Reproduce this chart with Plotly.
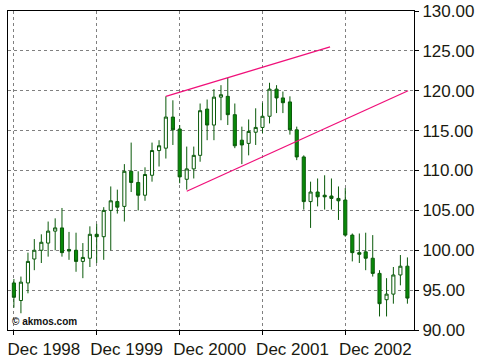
import pandas as pd
import plotly.graph_objects as go

# Monthly candles, Dec 1998 .. Sep 2003
dates = pd.date_range("1998-12-01", periods=58, freq="MS")

opens = [95.9, 93.7, 95.9, 98.9, 100.0, 100.9, 102.4, 102.8, 100.1, 100.0,
         98.6, 99.0, 102.0, 101.7, 105.0, 106.1, 105.5, 109.9, 108.5, 106.9,
         109.4, 112.5, 112.8, 116.7, 115.2, 108.9, 110.2, 111.9, 117.7, 115.7,
         119.2, 119.3, 117.0, 113.8, 113.4, 114.8, 115.4, 116.8, 120.2, 119.1,
         118.6, 115.1, 111.7, 106.1, 107.3, 106.9, 106.8, 106.5, 106.3, 101.9,
         99.7, 99.8, 99.0, 97.1, 93.8, 94.5, 96.9, 98.0]
highs = [96.4, 96.7, 99.7, 101.4, 102.0, 103.6, 104.0, 105.3, 102.3, 102.2,
         100.9, 103.0, 103.3, 105.4, 108.0, 107.6, 110.8, 113.5, 109.9, 110.4,
         113.5, 113.8, 119.3, 118.8, 115.7, 113.0, 113.0, 118.4, 118.9, 120.2,
         120.7, 121.6, 118.4, 115.5, 116.4, 117.8, 118.5, 121.0, 120.7, 119.9,
         119.3, 115.5, 111.9, 108.6, 109.0, 109.4, 109.0, 108.0, 107.8, 102.1,
         102.1, 102.2, 101.9, 97.5, 96.5, 97.9, 99.4, 99.1]
lows = [92.8, 92.1, 94.6, 97.5, 98.4, 99.2, 100.0, 99.2, 98.8, 97.3,
        96.5, 97.9, 98.4, 98.8, 100.0, 104.6, 103.6, 107.3, 105.0, 106.2,
        108.6, 110.5, 111.5, 113.2, 108.4, 107.6, 109.0, 111.1, 113.8, 113.8,
        116.3, 115.7, 112.8, 110.8, 111.9, 113.2, 114.7, 115.9, 117.2, 117.2,
        114.5, 111.3, 105.1, 102.8, 105.5, 105.1, 105.1, 103.8, 101.7, 98.6,
        98.4, 97.5, 96.7, 91.7, 91.7, 93.3, 95.6, 93.3]
closes = [94.1, 96.0, 98.6, 100.0, 101.0, 102.4, 102.8, 99.7, 99.9, 98.6,
          99.1, 102.0, 101.7, 105.0, 106.2, 105.4, 109.9, 108.5, 106.9, 109.5,
          112.5, 113.1, 116.7, 115.1, 109.2, 110.2, 111.9, 117.5, 115.7, 119.2,
          119.5, 117.0, 113.1, 113.2, 114.9, 115.4, 116.8, 120.2, 119.1, 118.5,
          115.1, 111.7, 106.1, 107.3, 106.7, 106.7, 106.5, 106.2, 101.9, 99.7,
          99.5, 99.0, 97.1, 93.3, 94.5, 96.9, 98.0, 94.0]

# Trend lines (channel)
upper_x = ["2000-10-01", "2002-09-25"]
upper_y = [119.3, 125.5]
lower_x = ["2001-01-01", "2003-09-04"]
lower_y = [107.4, 120.0]

tick_dates = ["1998-12-01", "1999-12-01", "2000-12-01", "2001-12-01", "2002-12-01"]
tick_text = ["Dec 1998", "Dec 1999", "Dec 2000", "Dec 2001", "Dec 2002"]

fig = go.Figure()
fig.add_trace(go.Candlestick(
    x=dates, open=opens, high=highs, low=lows, close=closes,
    increasing=dict(line=dict(color="#0a5a0a", width=1), fillcolor="#ffffff"),
    decreasing=dict(line=dict(color="#0a5a0a", width=1), fillcolor="#088a08"),
    whiskerwidth=0, showlegend=False, hoverinfo="skip",
))
fig.add_trace(go.Scatter(x=upper_x, y=upper_y, mode="lines", hoverinfo="skip",
                         line=dict(color="#f0107a", width=1.3), showlegend=False))
fig.add_trace(go.Scatter(x=lower_x, y=lower_y, mode="lines", hoverinfo="skip",
                         line=dict(color="#f0107a", width=1.3), showlegend=False))

font = dict(family="Liberation Sans, Arial, sans-serif", size=17, color="#1a1a10")

fig.update_layout(
    width=480, height=360,
    margin=dict(l=8, r=66, t=11, b=30),
    paper_bgcolor="white", plot_bgcolor="white",
    showlegend=False,
    xaxis=dict(
        type="date", range=["1998-11-05", "2003-09-30"],
        rangeslider=dict(visible=False), automargin=False,
        tickvals=tick_dates, ticktext=tick_text, tickfont=font,
        ticklabelshift=30, ticklabeloverflow="allow",
        showgrid=True, gridcolor="#808080", griddash="dot", gridwidth=1,
        showline=True, linecolor="black", linewidth=1, mirror=True,
        ticks="outside", ticklen=4, tickcolor="black", zeroline=False,
    ),
    yaxis=dict(
        side="right", range=[90, 130], dtick=5, tickformat=".2f", tickfont=font,
        automargin=False, ticklabeloverflow="allow",
        showgrid=True, gridcolor="#808080", griddash="dot", gridwidth=1,
        showline=True, linecolor="black", linewidth=1, mirror=True,
        ticks="outside", ticklen=4, tickcolor="black", zeroline=False,
    ),
    annotations=[dict(
        text="<b>© akmos.com</b>", xref="paper", yref="paper", x=0.004, y=0.003,
        xanchor="left", yanchor="bottom", showarrow=False,
        font=dict(family="Liberation Sans, Arial, sans-serif", size=10, color="#111"),
    )],
)

# remove the default 8px page margin so the 480x360 figure fills the window
fig.write_html("out.html", config={"displayModeBar": False, "staticPlot": True},
               post_script="document.body.style.margin='0px';")
